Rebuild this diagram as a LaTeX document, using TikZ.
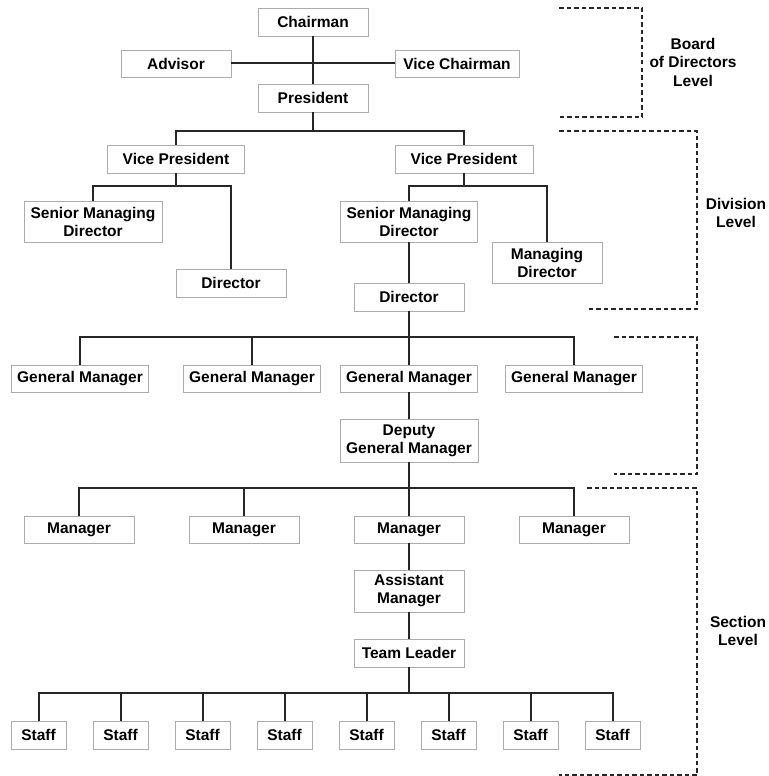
\documentclass[tikz,border=0pt]{standalone}
\usepackage{fontspec}
\setmainfont{Liberation Sans}
\usepackage{tikz}
\definecolor{boxline}{HTML}{ABABAB}
\definecolor{wirecol}{HTML}{262626}
\tikzset{
  post/.style={draw=boxline,line width=.9pt,fill=white,align=center,inner sep=0pt,
    minimum height=28pt,font=\fontsize{15.5}{18}\selectfont\bfseries},
  wire/.style={draw=wirecol,line width=2pt},
  level/.style={draw=wirecol,dash pattern=on 4.5pt off 3pt,line width=1.5pt},
  lvl/.style={align=center,font=\fontsize{15.5}{18.5}\selectfont\bfseries},
}

\begin{document}
\begin{tikzpicture}[x=1pt,y=-1pt]
\useasboundingbox (0,0) rectangle (768,776);
%board
\node[post,minimum width=110pt] (chair) at (313,22) {Chairman};
\node[post,minimum width=110pt,minimum height=27pt] (adv) at (176,63.5) {Advisor};
\node[post,minimum width=124pt,minimum height=27pt] (vchair) at (457,63.5) {Vice Chairman};
\node[post,minimum width=110pt] (pres) at (313,98) {President};
%division
\node[post,minimum width=137pt] (vpl) at (176,159) {Vice President};
\node[post,minimum width=138pt] (vpr) at (464,159) {Vice President};
\node[post,minimum width=138pt,minimum height=41pt] (smdl) at (93,221.5) {Senior Managing\\Director};
\node[post,minimum width=110pt] (dirl) at (231,283) {Director};
\node[post,minimum width=137pt,minimum height=41pt] (smdr) at (409,221.5) {Senior Managing\\Director};
\node[post,minimum width=110pt,minimum height=41pt] (mdir) at (547,262.5) {Managing\\Director};
\node[post,minimum width=110pt] (dirr) at (409,297) {Director};
%general managers
\foreach \n/\x in {1/80,2/252,3/409,4/574}
  \node[post,minimum width=137pt,minimum height=27pt] (gm\n) at (\x,378.5) {General Manager};
\node[post,minimum width=138pt,minimum height=43pt] (dgm) at (409,440.5) {Deputy\\General Manager};
%section
\foreach \n/\x in {1/79,2/244,3/409,4/574}
  \node[post,minimum width=110pt,minimum height=27pt] (mgr\n) at (\x,529.5) {Manager};
\node[post,minimum width=110pt,minimum height=42pt] (am) at (409,591) {Assistant\\Manager};
\node[post,minimum width=110pt] (tl) at (409,653) {Team Leader};
\foreach \n in {1,...,8}
  \node[post,minimum width=55pt] (st\n) at ({38.5+82*(\n-1)},735) {Staff};

\coordinate (bus1) at (313,131);
\coordinate (bus2l) at (176,186);
\coordinate (bus2r) at (464,186);
\coordinate (bus3) at (409,337);
\coordinate (bus4) at (409,488);
\coordinate (bus5) at (409,693);

\draw[wire] (chair) -- (pres);
\draw[wire] (adv) -- (vchair);
\draw[wire] (pres.south) -- (bus1);
\draw[wire] (vpl.north) |- (bus1) -| (vpr.north);
\draw[wire] (vpl.south) -- (bus2l);
\draw[wire] (smdl.north) |- (bus2l) -| (dirl.north);
\draw[wire] (vpr.south) -- (bus2r);
\draw[wire] (smdr.north) |- (bus2r) -| (mdir.north);
\draw[wire] (smdr) -- (dirr);
\draw[wire] (dirr.south) -- (gm3.north);
\draw[wire] (gm1.north) |- (bus3) -| (gm4.north);
\draw[wire] (gm2.north) -- (gm2.north |- bus3);
\draw[wire] (gm3) -- (dgm);
\draw[wire] (dgm.south) -- (mgr3.north);
\draw[wire] (mgr1.north) |- (bus4) -| (mgr4.north);
\draw[wire] (mgr2.north) -- (mgr2.north |- bus4);
\draw[wire] (mgr3) -- (am);
\draw[wire] (am) -- (tl);
\draw[wire] (tl.south) -- (bus5);
\draw[wire] (st1.north) |- (bus5) -| (st8.north);
\foreach \n in {2,...,7}
  \draw[wire] (st\n.north) -- (st\n.north |- bus5);

%levels
\draw[level] (559,8) -- (642,8) -- (642,117) -- (559,117);
\draw[level] (559,131) -- (697,131) -- (697,309) -- (587,309);
\draw[level] (614,337) -- (697,337) -- (697,474) -- (614,474);
\draw[level] (587,488) -- (697,488) -- (697,775) -- (559,775);
\node[lvl] (lvboard) at (693,62) {Board\\of Directors\\Level};
\node[lvl] (lvdiv) at (736,213) {Division\\Level};
\node[lvl] (lvsec) at (738,631) {Section\\Level};
\end{tikzpicture}
\end{document}
